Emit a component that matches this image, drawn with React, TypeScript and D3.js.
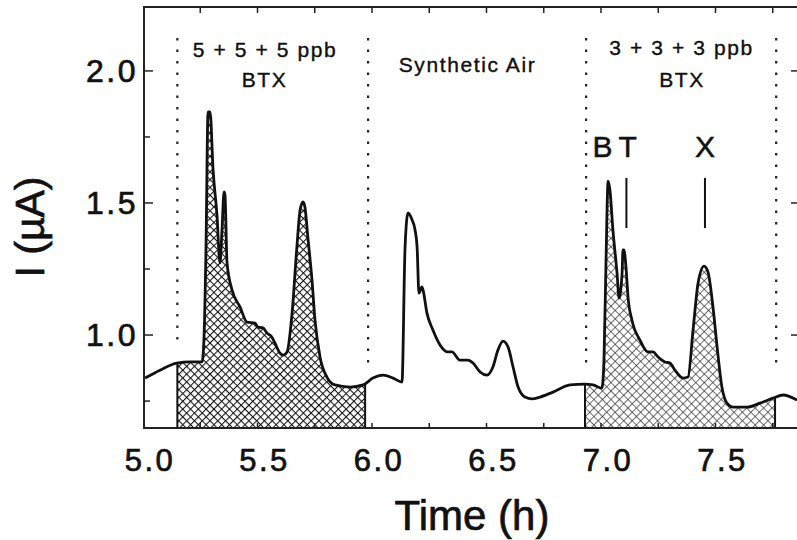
import * as d3 from 'd3'

// Sensor current trace: time in hours, current in µA
const timeH = [
  5.009, 5.074, 5.148, 5.205, 5.258, 5.266, 5.275, 5.284, 5.293, 5.306,
  5.323, 5.336, 5.345, 5.354, 5.358, 5.367, 5.389, 5.424, 5.454, 5.489,
  5.502, 5.524, 5.541, 5.563, 5.576, 5.598, 5.611, 5.629, 5.651, 5.672,
  5.686, 5.699, 5.707, 5.721, 5.738, 5.751, 5.773, 5.803, 5.838, 5.904,
  5.961, 6.004, 6.048, 6.092, 6.131, 6.144, 6.157, 6.175, 6.188, 6.197,
  6.205, 6.218, 6.223, 6.240, 6.266, 6.306, 6.328, 6.349, 6.384, 6.419,
  6.441, 6.472, 6.502, 6.528, 6.550, 6.572, 6.594, 6.616, 6.638, 6.668,
  6.699, 6.734, 6.790, 6.865, 6.930, 6.965, 7.004, 7.013, 7.022, 7.031,
  7.039, 7.052, 7.070, 7.079, 7.092, 7.096, 7.100, 7.109, 7.118, 7.135,
  7.170, 7.205, 7.227, 7.249, 7.279, 7.301, 7.323, 7.358, 7.380, 7.402,
  7.424, 7.450, 7.467, 7.489, 7.507, 7.528, 7.550, 7.576, 7.638, 7.694,
  7.751, 7.795, 7.856,
]
const currentUA = [
  0.837, 0.867, 0.894, 0.898, 0.898, 0.981, 1.322, 1.845, 1.845, 1.625,
  1.455, 1.273, 1.398, 1.542, 1.530, 1.273, 1.170, 1.106, 1.049, 1.045,
  1.030, 1.027, 1.008, 0.992, 0.970, 0.932, 0.924, 0.936, 1.083, 1.333,
  1.473, 1.504, 1.485, 1.360, 1.208, 1.057, 0.917, 0.841, 0.811, 0.803,
  0.811, 0.837, 0.848, 0.837, 0.822, 1.322, 1.462, 1.436, 1.398, 1.333,
  1.159, 1.182, 1.170, 1.083, 1.019, 0.951, 0.936, 0.936, 0.905, 0.905,
  0.894, 0.860, 0.848, 0.879, 0.943, 0.977, 0.955, 0.879, 0.803, 0.765,
  0.758, 0.765, 0.784, 0.811, 0.814, 0.811, 0.799, 0.905, 1.284, 1.583,
  1.549, 1.398, 1.235, 1.140, 1.235, 1.322, 1.322, 1.258, 1.144, 1.057,
  0.981, 0.936, 0.936, 0.917, 0.898, 0.894, 0.867, 0.837, 0.841, 1.019,
  1.197, 1.261, 1.239, 1.106, 0.955, 0.803, 0.742, 0.727, 0.727, 0.742,
  0.761, 0.773, 0.754,
]

// shaded exposure windows (h)
const bandStart = [5.15, 6.93]
const bandEnd = [5.97, 7.76]
// dotted gas switching lines
const switchTime = [5.15, 5.983, 6.935, 7.765]
const switchLow = [0.975, 0.88, 0.88, 0.88]
const switchHigh = 2.125

const xTicks = [5.0, 5.5, 6.0, 6.5, 7.0, 7.5]
const xMinorTicks = [5.25, 5.5, 5.75, 6.0, 6.25, 6.5, 6.75, 7.0, 7.25, 7.5, 7.75]
const yTicks = [1.0, 1.5, 2.0]
const yMinorTicks = [0.75, 1.25, 1.75]

const gasLabels = ['5 + 5 + 5 ppb', 'BTX', 'Synthetic Air', '3 + 3 + 3 ppb', 'BTX']
const gasLabelT = [5.533, 5.531, 6.417, 7.352, 7.354]
const gasLabelI = [2.053, 1.939, 1.996, 2.061, 1.939]

const peakNames = ['B', 'T', 'X']
const peakLabelT = [7.007, 7.116, 7.454]
const markerT = [7.111, 7.454]

const W = 797
const H = 540
const font = "'Liberation Sans', Arial, sans-serif"
const ink = '#111'

export default function App() {
  const left = 143, right = 800, top = 7, bottom = 428

  const x = d3.scaleLinear().domain([5.0, 5 + (right - left) / 229]).range([left, right])
  const y = d3.scaleLinear().domain([0.648, 2.242]).range([bottom, top])

  const pts: [number, number][] = timeH.map((t, i) => [t, currentUA[i]])
  const line = d3.line<[number, number]>()
    .x(d => x(d[0])).y(d => y(d[1]))
    .curve(d3.curveMonotoneX)
  const area = d3.area<[number, number]>()
    .x(d => x(d[0])).y0(bottom).y1(d => y(d[1]))
    .curve(d3.curveMonotoneX)
  // piecewise value of the trace, for the band edges
  const valueAt = d3.scaleLinear().domain(timeH).range(currentUA)

  // scanned print looks heavy: thicken glyphs a little
  const heavy = { stroke: ink, strokeWidth: 0.7, fill: ink }

  return (
    <svg width={W} height={H} style={{ position: 'absolute', left: 0, top: 0, background: '#fff' }}
      fontFamily={font}>
      <defs>
        <pattern id="hatchDark" width="5.5" height="5.5" patternUnits="userSpaceOnUse"
          patternTransform="rotate(45)">
          <rect width="5.5" height="5.5" fill="#fff" />
          <line x1="0" y1="0" x2="5.5" y2="0" stroke="#111" strokeWidth="2.1" />
          <line x1="0" y1="0" x2="0" y2="5.5" stroke="#111" strokeWidth="2.1" />
        </pattern>
        <pattern id="hatchLight" width="6" height="6" patternUnits="userSpaceOnUse"
          patternTransform="rotate(45)">
          <rect width="6" height="6" fill="#fff" />
          <line x1="0" y1="0" x2="6" y2="0" stroke="#222" strokeWidth="1.3" />
          <line x1="0" y1="0" x2="0" y2="6" stroke="#222" strokeWidth="1.3" />
        </pattern>
        {bandStart.map((s, i) => (
          <clipPath id={'band' + i} key={i}>
            <rect x={x(s)} y={top} width={x(bandEnd[i]) - x(s)} height={bottom - top} />
          </clipPath>
        ))}
      </defs>

      {/* shaded windows */}
      {bandStart.map((s, i) => (
        <g key={'b' + i}>
          <path d={area(pts) || ''} clipPath={`url(#band${i})`}
            fill={i === 0 ? 'url(#hatchDark)' : 'url(#hatchLight)'} />
          <line x1={x(s)} x2={x(s)} y1={bottom} y2={y(valueAt(s))} stroke={ink} strokeWidth={2} />
          <line x1={x(bandEnd[i])} x2={x(bandEnd[i])} y1={bottom} y2={y(valueAt(bandEnd[i]))}
            stroke={ink} strokeWidth={2} />
        </g>
      ))}

      {/* dotted switching lines */}
      {switchTime.map((t, i) => (
        <line key={'d' + i} x1={x(t)} x2={x(t)} y1={y(switchHigh)} y2={y(switchLow[i])}
          stroke="#222" strokeWidth={2.2} strokeDasharray="2.5 9" />
      ))}

      {/* trace */}
      <path d={line(pts) || ''} fill="none" stroke={ink} strokeWidth={2.8} strokeLinejoin="round" />

      {/* frame */}
      <line x1={left} x2={W} y1={top} y2={top} stroke="#222" strokeWidth={2} />
      <line x1={left} x2={W} y1={bottom} y2={bottom} stroke="#222" strokeWidth={2} />
      <line x1={left + 1} x2={left + 1} y1={top} y2={bottom} stroke="#222" strokeWidth={2} />

      {xMinorTicks.map(t => (
        <g key={'xt' + t}>
          <line x1={x(t)} x2={x(t)} y1={top} y2={top + 6} stroke="#222" strokeWidth={1.5} />
          <line x1={x(t)} x2={x(t)} y1={bottom} y2={bottom - 5} stroke="#222" strokeWidth={1.5} />
        </g>
      ))}
      {yTicks.map(v => (
        <g key={'yt' + v}>
          <line x1={left} x2={left + 10} y1={y(v)} y2={y(v)} stroke="#222" strokeWidth={1.5} />
          <line x1={right} x2={right - 9} y1={y(v)} y2={y(v)} stroke="#222" strokeWidth={1.5} />
        </g>
      ))}
      {yMinorTicks.map(v => (
        <line key={'ym' + v} x1={left} x2={left + 7} y1={y(v)} y2={y(v)} stroke="#222" strokeWidth={1.5} />
      ))}

      {/* tick labels */}
      {xTicks.map(t => (
        <text key={'xl' + t} x={x(t) + 7} y={471} textAnchor="middle" fontSize={31}
          letterSpacing={2.5} {...heavy}>{t.toFixed(1)}</text>
      ))}
      {yTicks.map(v => (
        <text key={'yl' + v} x={138} y={y(v) + 11} textAnchor="end" fontSize={32}
          letterSpacing={2.5} {...heavy}>{v.toFixed(1)}</text>
      ))}

      {/* axis titles */}
      <text x={472} y={530} textAnchor="middle" fontSize={42} {...heavy}>Time (h)</text>
      <text transform={`translate(44, 227) rotate(-90)`} textAnchor="middle" fontSize={41}
        {...heavy}>I (µA)</text>

      {/* gas labels */}
      {gasLabels.map((s, i) => (
        <text key={'g' + i} x={x(gasLabelT[i])} y={y(gasLabelI[i])} textAnchor="middle"
          fontSize={21} letterSpacing={1.6} {...heavy} strokeWidth={0.4}>{s}</text>
      ))}

      {/* peak labels and markers */}
      {peakNames.map((s, i) => (
        <text key={'p' + i} x={x(peakLabelT[i])} y={y(1.674)} textAnchor="middle"
          fontSize={30} {...heavy} strokeWidth={0.5}>{s}</text>
      ))}
      {markerT.map(t => (
        <line key={'m' + t} x1={x(t)} x2={x(t)} y1={y(1.595)} y2={y(1.405)} stroke={ink} strokeWidth={2} />
      ))}
    </svg>
  )
}
